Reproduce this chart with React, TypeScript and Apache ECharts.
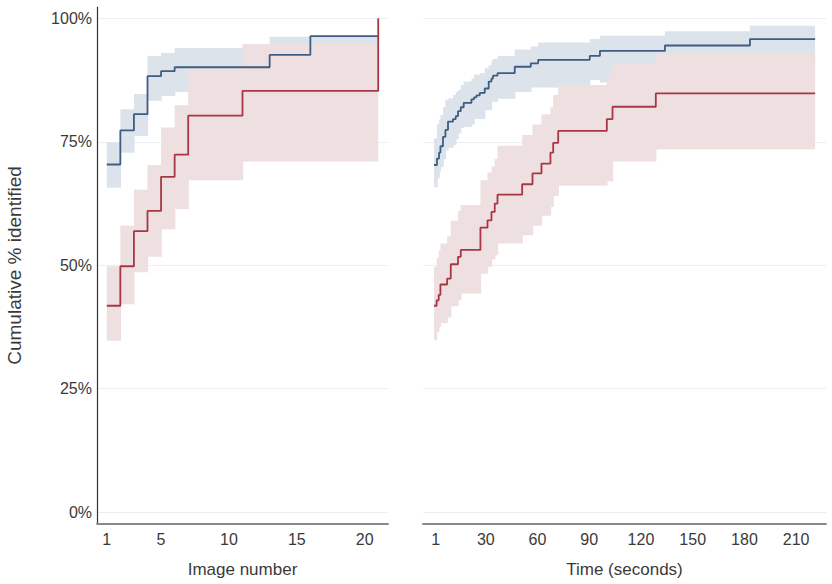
import React, { useEffect, useRef } from 'react';
import * as echarts from 'echarts';

// ---------- Left panel: by image number ----------
const imgTicks = [1, 5, 10, 15, 20];
const imgBlueX = [1, 2, 3, 4, 5, 6, 13, 16, 21];
const imgBlueY = [0.704, 0.773, 0.806, 0.883, 0.893, 0.901, 0.926, 0.964, 0.964];
const imgBlueLo = [0.657, 0.728, 0.762, 0.833, 0.843, 0.851, 0.87, 0.89];
const imgBlueHi = [0.749, 0.816, 0.847, 0.924, 0.93, 0.94, 0.963, 0.964];

const imgRedX = [1, 2, 3, 4, 5, 6, 7, 11, 21];
const imgRedY = [0.418, 0.498, 0.569, 0.61, 0.679, 0.724, 0.803, 0.853, 1.0];
const imgRedLo = [0.347, 0.421, 0.486, 0.517, 0.573, 0.614, 0.672, 0.71];
const imgRedHi = [0.498, 0.58, 0.653, 0.703, 0.779, 0.824, 0.902, 0.948];

// ---------- Right panel: by time (seconds) ----------
const timeTicks = [1, 30, 60, 90, 120, 150, 180, 210];
const timeBlueX = [0, 1.7, 2.9, 3.7, 5.2, 6.6, 8.1, 11, 12.6, 13.9, 15.5, 17.2, 21.7, 23.2, 24.6, 26.5, 29.4, 31.7, 33.3, 34.2, 36.8, 46.8, 56.1, 60.4, 90.3, 96.2, 133.9, 183.2, 221];
const timeBlueY = [0.703, 0.716, 0.728, 0.741, 0.76, 0.774, 0.791, 0.796, 0.802, 0.812, 0.82, 0.829, 0.836, 0.84, 0.844, 0.849, 0.858, 0.872, 0.878, 0.884, 0.889, 0.902, 0.909, 0.916, 0.924, 0.934, 0.945, 0.958, 0.958];
const timeBlueHi = [0.757, 0.786, 0.795, 0.804, 0.82, 0.835, 0.838, 0.845, 0.851, 0.855, 0.865, 0.872, 0.878, 0.886, 0.886, 0.889, 0.899, 0.905, 0.915, 0.918, 0.924, 0.937, 0.943, 0.951, 0.958, 0.965, 0.974, 0.985];
const timeBlueLo = [0.658, 0.676, 0.69, 0.699, 0.715, 0.733, 0.738, 0.743, 0.755, 0.767, 0.778, 0.78, 0.785, 0.796, 0.796, 0.796, 0.814, 0.814, 0.831, 0.831, 0.837, 0.851, 0.86, 0.86, 0.875, 0.87, 0.89, 0.905];

const timeRedX = [0, 1.5, 2.7, 3.7, 7.6, 9.7, 13.9, 15.5, 26.9, 31, 33.3, 35.2, 36.8, 51.1, 57.1, 62.3, 67.5, 69.1, 72, 100.2, 103.5, 128.6, 221];
const timeRedY = [0.418, 0.429, 0.44, 0.461, 0.473, 0.502, 0.517, 0.531, 0.576, 0.591, 0.608, 0.625, 0.643, 0.664, 0.686, 0.706, 0.728, 0.748, 0.772, 0.796, 0.821, 0.848, 0.848];
const timeRedHi = [0.497, 0.515, 0.53, 0.544, 0.559, 0.59, 0.61, 0.622, 0.672, 0.688, 0.7, 0.715, 0.742, 0.764, 0.785, 0.806, 0.82, 0.845, 0.865, 0.885, 0.909, 0.929];
const timeRedLo = [0.348, 0.365, 0.375, 0.383, 0.394, 0.417, 0.429, 0.443, 0.483, 0.497, 0.512, 0.52, 0.544, 0.561, 0.58, 0.6, 0.618, 0.64, 0.661, 0.67, 0.71, 0.735];

const yTicks = [0, 0.25, 0.5, 0.75, 1];

const BLUE = '#3d5d84';
const RED = '#a63743';
const BLUE_BAND = '#dde3ea';
const RED_BAND = '#eee0e1';
const TEXT = '#3a3a3a';
const FONT = 'Liberation Sans, Arial, sans-serif';

function bandRows(x: number[], lo: number[], hi: number[]) {
  return lo.map((l, i) => [x[i], x[i + 1], l, hi[i]]);
}
function linePts(x: number[], y: number[]) {
  return x.map((v, i) => [v, y[i]]);
}

function bandSeries(rows: number[][], color: string, idx: number) {
  const n = rows.length;
  return {
    type: 'custom',
    xAxisIndex: idx,
    yAxisIndex: idx,
    silent: true,
    encode: { x: [0, 1], y: [2, 3] },
    data: rows,
    renderItem: (params: any, api: any) => {
      const p0 = api.coord([api.value(0), api.value(3)]);
      const p1 = api.coord([api.value(1), api.value(2)]);
      const extra = params.dataIndex < n - 1 ? 0.7 : 0;
      return {
        type: 'rect',
        shape: { x: p0[0], y: p0[1], width: p1[0] - p0[0] + extra, height: p1[1] - p0[1] },
        style: { fill: color },
      };
    },
  };
}

function lineSeries(pts: number[][], color: string, idx: number) {
  return {
    type: 'line',
    xAxisIndex: idx,
    yAxisIndex: idx,
    step: 'end',
    symbol: 'none',
    silent: true,
    data: pts,
    lineStyle: { color, width: 1.8 },
  };
}

export default function App() {
  const ref = useRef<HTMLDivElement>(null);
  useEffect(() => {
    const chart = echarts.init(ref.current!, null, { renderer: 'svg' });
    const labelStyle = { color: TEXT, fontSize: 16, fontFamily: FONT };
    const yAxisBase = (idx: number, showLine: boolean) => ({
      type: 'value',
      gridIndex: idx,
      min: -0.024,
      max: 1.023,
      axisLine: { show: showLine, lineStyle: { color: '#333333', width: 1.2 } },
      axisTick: { show: false, customValues: yTicks },
      axisLabel: {
        show: showLine,
        customValues: yTicks,
        formatter: (v: number) => Math.round(v * 100) + '%',
        margin: 5,
        ...labelStyle,
      },
      splitLine: { show: true, lineStyle: { color: '#e9eff5', width: 1.2 } },
      name: showLine ? 'Cumulative % identified' : '',
      nameLocation: 'middle',
      nameGap: 73,
      nameTextStyle: { ...labelStyle, fontSize: 19 },
    });
    const xAxisBase = (idx: number, min: number, max: number, ticks: number[], name: string) => ({
      type: 'value',
      gridIndex: idx,
      min,
      max,
      axisLine: { show: true, onZero: false, lineStyle: { color: '#8a8a8a', width: 2 } },
      axisTick: { show: false, customValues: ticks },
      axisLabel: { customValues: ticks, margin: 7, ...labelStyle },
      splitLine: { show: false },
      name,
      nameLocation: 'middle',
      nameGap: 37,
      nameTextStyle: { ...labelStyle, fontSize: 17 },
    });
    chart.setOption({
      animation: false,
      textStyle: { fontFamily: FONT },
      grid: [
        { left: 97, top: 7, width: 291, height: 517 },
        { left: 423, top: 7, width: 403, height: 517 },
      ],
      xAxis: [
        xAxisBase(0, 0.28, 21.72, imgTicks, 'Image number'),
        xAxisBase(1, -6.4, 227.3, timeTicks, 'Time (seconds)'),
      ],
      yAxis: [yAxisBase(0, true), yAxisBase(1, false)],
      series: [
        bandSeries(bandRows(imgBlueX, imgBlueLo, imgBlueHi), BLUE_BAND, 0),
        bandSeries(bandRows(imgRedX, imgRedLo, imgRedHi), RED_BAND, 0),
        lineSeries(linePts(imgBlueX, imgBlueY), BLUE, 0),
        lineSeries(linePts(imgRedX, imgRedY), RED, 0),
        bandSeries(bandRows(timeBlueX, timeBlueLo, timeBlueHi), BLUE_BAND, 1),
        bandSeries(bandRows(timeRedX, timeRedLo, timeRedHi), RED_BAND, 1),
        lineSeries(linePts(timeBlueX, timeBlueY), BLUE, 1),
        lineSeries(linePts(timeRedX, timeRedY), RED, 1),
      ],
    });
    return () => chart.dispose();
  }, []);
  return (
    <div
      ref={ref}
      style={{ position: 'fixed', left: 0, top: 0, width: 832, height: 584, background: '#ffffff' }}
    />
  );
}
